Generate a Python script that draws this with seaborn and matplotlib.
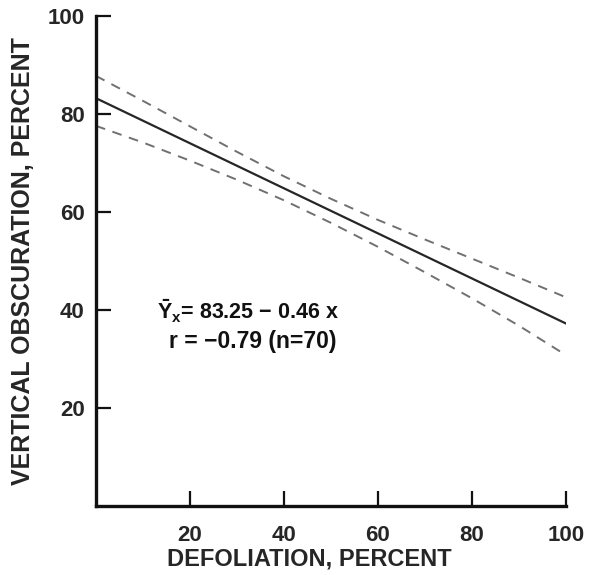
import pandas as pd
import matplotlib.pyplot as plt
import seaborn as sns

# regression line and its confidence band
defol = [0, 10, 20, 30, 40, 50, 60, 70, 80, 90, 100]
fit = [83.25, 78.65, 74.05, 69.45, 64.85, 60.25, 55.65, 51.05, 46.45, 41.85, 37.25]
upper = [87.8, 82.7, 77.5, 72.3, 67.3, 62.7, 58.4, 54.4, 50.5, 46.6, 42.6]
lower = [77.6, 74.2, 70.5, 66.6, 62.4, 57.8, 52.9, 47.7, 42.4, 36.8, 30.8]
ticks = [20, 40, 60, 80, 100]

df = pd.DataFrame({'x': defol, 'fit': fit, 'upper': upper, 'lower': lower})

sns.set_style('ticks')
plt.rcParams['font.family'] = ['Liberation Sans', 'DejaVu Sans']
plt.rcParams['font.weight'] = 'bold'
plt.rcParams['mathtext.fontset'] = 'custom'
plt.rcParams['mathtext.rm'] = 'Liberation Sans:bold'
plt.rcParams['mathtext.it'] = 'Liberation Sans:bold'

fig = plt.figure(figsize=(5.92, 5.75), dpi=100)
ax = fig.add_axes([0.162, 0.12, 0.794, 0.852])

sns.lineplot(data=df, x='x', y='fit', ax=ax, color='#262626', lw=1.6)
sns.lineplot(data=df, x='x', y='upper', ax=ax, color='#707070', lw=1.4,
             dashes=False, linestyle=(0, (5, 4)))
sns.lineplot(data=df, x='x', y='lower', ax=ax, color='#707070', lw=1.4,
             dashes=False, linestyle=(0, (5, 4)))

ax.set_xlim(0, 100)
ax.set_ylim(0, 100)
ax.set_xticks(ticks)
ax.set_yticks(ticks)
ax.set_xticklabels([str(t) for t in ticks], fontsize=16, fontweight='bold')
ax.set_yticklabels([str(t) for t in ticks], fontsize=16, fontweight='bold')
ax.tick_params(direction='in', length=11, width=1.6, color='#111111', pad=8)
ax.tick_params(axis='x', pad=14)
sns.despine(ax=ax)
for s in ['left', 'bottom']:
    ax.spines[s].set_linewidth(2.4)
    ax.spines[s].set_color('#111111')

ax.set_xlabel('DEFOLIATION, PERCENT', fontsize=17, fontweight='bold')
ax.xaxis.set_label_coords(0.455, -0.085)
ax.set_ylabel('VERTICAL OBSCURATION, PERCENT', fontsize=18, fontweight='bold', labelpad=9)

ax.text(13.0, 39.8, r'$\bar{\mathrm{Y}}_{\mathrm{x}}$= 83.25 − 0.46 x', fontsize=15.5,
        fontweight='bold', va='center', color='#111111')
ax.text(15.6, 33.5, 'r = −0.79 (n=70)', fontsize=16.5, fontweight='bold',
        va='center', color='#111111')

plt.savefig('out.png', dpi=100)
